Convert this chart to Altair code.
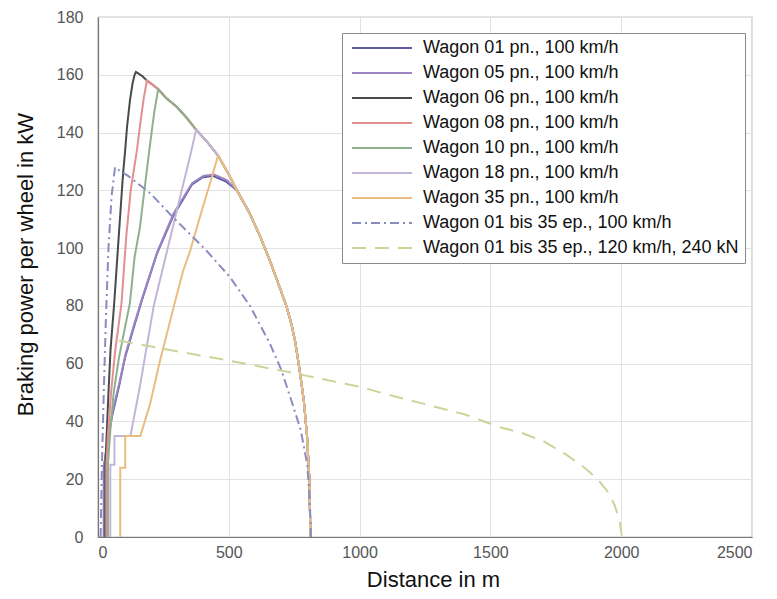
import altair as alt
import pandas as pd

# ---------------- data ----------------
series_names = [
    "Wagon 01 pn., 100 km/h",
    "Wagon 05 pn., 100 km/h",
    "Wagon 06 pn., 100 km/h",
    "Wagon 08 pn., 100 km/h",
    "Wagon 10 pn., 100 km/h",
    "Wagon 18 pn., 100 km/h",
    "Wagon 35 pn., 100 km/h",
    "Wagon 01 bis 35 ep., 100 km/h",
    "Wagon 01 bis 35 ep., 120 km/h, 240 kN",
]

# common descending envelope of the pn. curves (distance m, power kW)
envelope_x = [145, 170, 187, 210, 230, 260, 300, 340, 375, 420, 459, 500, 531,
              580, 620, 660, 700, 720, 740, 755, 772, 787, 799, 808, 812]
envelope_y = [161, 159.5, 158, 156.5, 155, 152, 149, 145, 141, 136.5, 132, 125.5, 120,
              112, 104, 95, 85, 80, 73.5, 67, 57, 47, 35, 20, 0]

# rising parts of each pn. curve, and where each one joins the envelope
w01_x = [22, 22, 35, 54, 80, 103, 135, 168, 225, 287, 359, 400, 440, 490]
w01_y = [0, 24, 32, 42, 52, 62, 72, 82, 98, 111, 122, 124.5, 125, 123]
w05_x = [24, 24, 37, 56, 82, 106, 138, 170, 228, 289, 360, 403, 443, 493]
w05_y = [0, 25, 33, 43.5, 53.5, 63.5, 73.5, 83, 99, 112, 122.5, 125, 125.5, 123.5]
w06_x = [28, 28, 33, 40, 48, 62, 80, 96, 104, 111, 122, 132, 140]
w06_y = [0, 25, 35, 50, 65, 81, 105, 126, 134, 142, 151, 157, 160]
w08_x = [32, 32, 40, 50, 65, 90, 108, 125, 149, 160, 175]
w08_y = [0, 25, 38, 50, 64, 81, 104, 120, 134, 142, 152]
w10_x = [38, 38, 48, 60, 80, 122, 140, 160, 180, 199, 215]
w10_y = [0, 25, 38, 50, 62, 81, 97, 107, 122, 136, 147]
w18_x = [47, 47, 63, 63, 124, 160, 213, 264, 320, 350]
w18_y = [0, 25, 25, 35, 35, 52, 80, 99, 120, 131]
w35_x = [85, 85, 104, 104, 162, 199, 237, 296, 325, 352, 400, 430]
w35_y = [0, 24, 24, 35, 35, 46, 61, 82, 92, 99, 114, 123]
join_x = [531, 531, 145, 187, 230, 375, 459]

ep100_x = [10, 15, 22, 30, 40, 52, 65, 80, 115, 200, 283, 350, 416, 504, 581,
           657, 700, 740, 775, 800, 810, 814]
ep100_y = [0, 25, 50, 75, 100, 118, 128, 127, 125, 119, 111, 105, 99, 90, 80,
           67, 58, 47, 37, 25, 12, 0]
ep120_x = [80, 199, 350, 505, 734, 1000, 1100, 1250, 1400, 1537, 1620, 1700,
           1790, 1860, 1910, 1950, 1975, 1993, 2003]
ep120_y = [68, 66, 63.5, 61, 57, 52, 49.5, 46, 42.5, 38, 36, 33.3,
           28.5, 24, 20, 15.5, 11, 6, 0]

x_ticks = [0, 500, 1000, 1500, 2000, 2500]
y_ticks = [0, 20, 40, 60, 80, 100, 120, 140, 160, 180]

# ---------------- styles ----------------
colors = ["#5c5ca0", "#9c84c4", "#4a4a4a", "#e38f8f", "#8fb08c",
          "#c3b5d8", "#e9bd80", "#8a8cc0", "#cdd49a"]
dashes = [[1, 0], [1, 0], [1, 0], [1, 0], [1, 0], [1, 0], [1, 0],
          [9, 4, 2, 4], [14, 9]]
widths = [2.0, 2.0, 1.4, 1.3, 1.3, 1.3, 1.5, 1.8, 1.8]

# ---------------- table ----------------
rows = []
rising = [(w01_x, w01_y), (w05_x, w05_y), (w06_x, w06_y), (w08_x, w08_y),
          (w10_x, w10_y), (w18_x, w18_y), (w35_x, w35_y)]
for k, ((xs, ys), jx) in enumerate(zip(rising, join_x)):
    pts = list(zip(xs, ys)) + [(ex, ey) for ex, ey in zip(envelope_x, envelope_y) if ex >= jx]
    for i, (x, y) in enumerate(pts):
        rows.append({"series": series_names[k], "x": x, "y": y, "i": i})
for k, (xs, ys) in zip([7, 8], [(ep100_x, ep100_y), (ep120_x, ep120_y)]):
    for i, (x, y) in enumerate(zip(xs, ys)):
        rows.append({"series": series_names[k], "x": x, "y": y, "i": i})
df = pd.DataFrame(rows)

FONT = "Liberation Sans"

chart = alt.Chart(df).mark_line(clip=True).encode(
    x=alt.X("x:Q",
            scale=alt.Scale(domain=[0, 2500], nice=False),
            axis=alt.Axis(values=x_ticks, format="d", title="Distance in m", labelPadding=7,
                          titleX=335, titleY=49, titleBaseline="alphabetic")),
    y=alt.Y("y:Q",
            scale=alt.Scale(domain=[0, 180], nice=False),
            axis=alt.Axis(values=y_ticks, format="d", title="Braking power per wheel in kW",
                          labelPadding=15, titleX=-66, titleY=247,
                          titleBaseline="alphabetic")),
    color=alt.Color("series:N",
                    scale=alt.Scale(domain=series_names, range=colors),
                    legend=alt.Legend(title=None, orient="none", legendX=244, legendY=16)),
    strokeDash=alt.StrokeDash("series:N",
                              scale=alt.Scale(domain=series_names, range=dashes),
                              legend=alt.Legend(title=None, orient="none", legendX=244, legendY=16)),
    strokeWidth=alt.StrokeWidth("series:N",
                                scale=alt.Scale(domain=series_names, range=widths),
                                legend=None),
    order="i:Q",
).properties(
    width=654, height=520,
    autosize=alt.AutoSizeParams(type="none"),
    padding={"left": 90, "top": 9, "right": 17, "bottom": 54},
).configure_view(
    stroke="#8a8a8a", strokeWidth=1.2
).configure_axis(
    grid=True, gridColor="#e2e2e2", gridWidth=1,
    domainColor="#777777", domainWidth=1.2,
    ticks=False,
    labelFont=FONT, labelFontSize=16, labelColor="#555555",
    titleFont=FONT, titleFontSize=22, titleFontWeight="normal", titleColor="#111111",
).configure_legend(
    symbolType="M-1,0H11", symbolSize=100, symbolStrokeWidth=1.8,
    labelFont=FONT, labelFontSize=18, labelColor="#111111", labelOffset=57,
    labelLimit=400,
    rowPadding=7, padding=6,
    strokeColor="#8a8a8a", fillColor="white", cornerRadius=0,
)

chart.save("out.html", embed_options={"renderer": "svg", "actions": False})
